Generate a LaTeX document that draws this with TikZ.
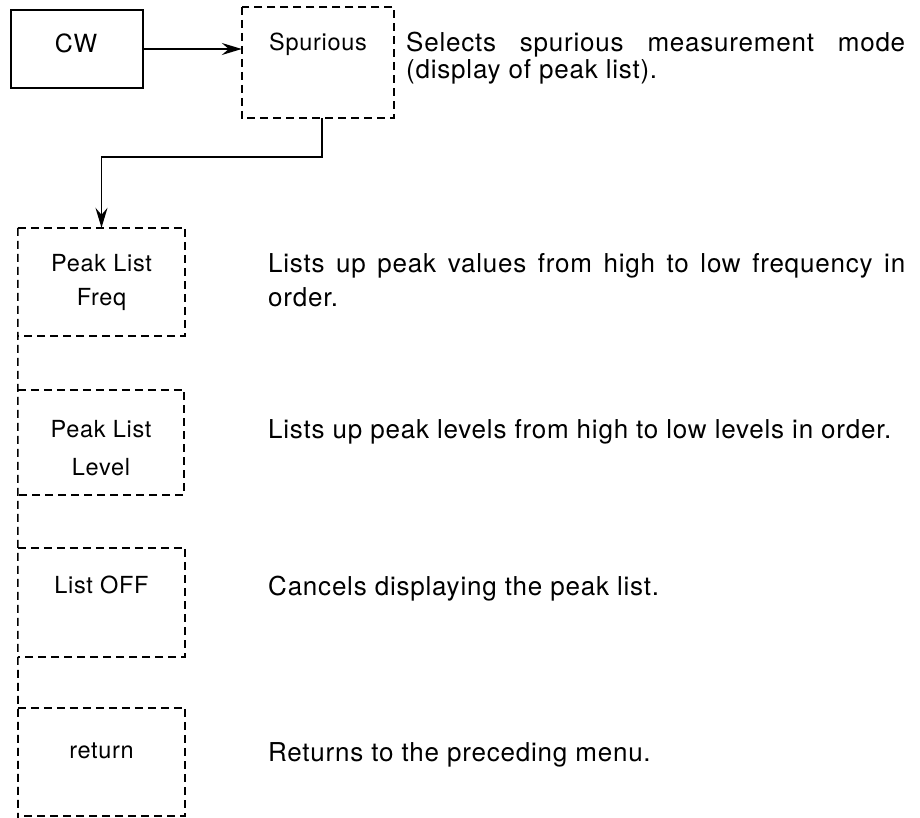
\documentclass[tikz,border=0pt]{standalone}
\usepackage{fontspec}
\setmainfont{TeX Gyre Heros}[LetterSpace=3]
\usetikzlibrary{arrows.meta}
\begin{document}
\begin{tikzpicture}[x=1pt,y=-1pt,
  every node/.style={font=\fontsize{26}{30}\selectfont, inner sep=0pt},
  solidbox/.style={draw, rectangle, line width=1.8pt},
  dbox/.style={rectangle},
  dline/.style={dash pattern=on 8pt off 5pt, line width=1.6pt},
  lbl/.style={anchor=base, font=\fontsize{23.5}{28}\selectfont},
  desc/.style={anchor=base west},
  conn/.style={line width=1.8pt, -{Stealth[length=20pt,width=12pt,inset=7pt]}}]
\useasboundingbox (0,0) rectangle (920,818);
% top row
\node[solidbox, minimum width=132pt, minimum height=78pt] (cw) at (77,49) {};
\node[lbl, font=\fontsize{25}{30}\selectfont] (cwt) at (76,53) {CW};
\node[dbox, minimum width=152pt, minimum height=111pt] (spur) at (318,62.5) {};
\draw[dline] (spur.north west) rectangle (spur.south east);
\node[lbl] (spurt) at (318,51) {Spurious};
\draw[conn] (cw.east) -- (cw.east -| spur.west);
% left column
\node[dbox, minimum width=167pt, minimum height=108pt] (freq) at (101.5,282) {};
\node[dbox, minimum width=166pt, minimum height=105pt] (level) at (101,442.5) {};
\node[dbox, minimum width=167pt, minimum height=109pt] (off) at (101.5,602.5) {};
\node[dbox, minimum width=167pt, minimum height=108pt] (ret) at (101.5,762) {};
\coordinate (colend) at (18,818);
\foreach \b in {freq,level,off,ret}{
  \draw[dline] (\b.north west) -- (\b.north east) -- (\b.south east) -- (\b.south west);
}
\draw[dline] (freq.north west) -- (colend);
% connector
\coordinate (bend) at (322,157);
\draw[conn] (bend |- spur.south) -- (bend) -| (freq.north);
% box labels
\node[lbl] (f1) at (101.5,271) {Peak List};
\node[lbl] (f2) at (101.5,305) {Freq};
\node[lbl] (l1) at (101,437) {Peak List};
\node[lbl] (l2) at (101,475) {Level};
\node[lbl] (o1) at (101.5,593) {List OFF};
\node[lbl] (r1) at (101.5,758) {return};
% descriptions
\node[desc] (d1a) at (406,52) {\makebox[499pt][s]{Selects spurious measurement mode}};
\node[desc] (d1b) at (406,79) {(display of peak list).};
\node[desc] (d2a) at (268,272) {\makebox[637pt][s]{Lists up peak values from high to low frequency in}};
\node[desc] (d2b) at (268,306) {order.};
\node[desc] (d3) at (268,438) {Lists up peak levels from high to low levels in order.};
\node[desc] (d4) at (268,595) {Cancels displaying the peak list.};
\node[desc] (d5) at (268,761) {Returns to the preceding menu.};
\end{tikzpicture}
\end{document}
